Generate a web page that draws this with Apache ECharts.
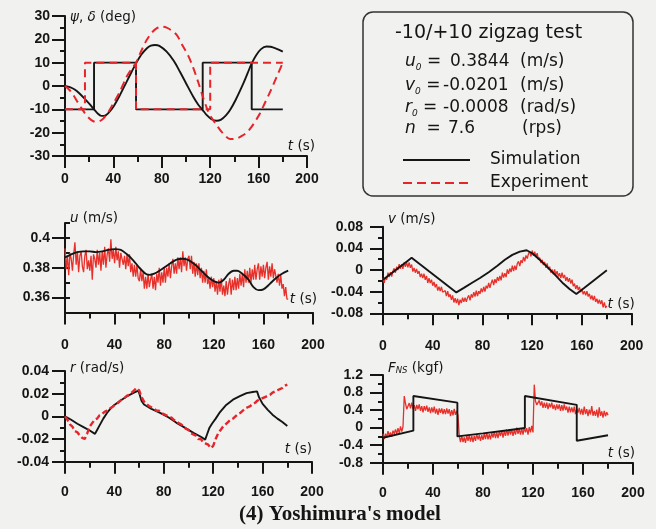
<!DOCTYPE html>
<html>
<head>
<meta charset="utf-8">
<script src="https://cdn.jsdelivr.net/npm/echarts@6/dist/echarts.min.js"></script>
<style>
html, body { margin: 0; padding: 0; background: #f1f1f0; }
#chart { width: 656px; height: 529px; }
</style>
</head>
<body>
<div id="chart"></div>
<script>
// ---- heading / rudder angle (deg) ----
const psiSimT = [0,4,8,12,16,20,24,27,30,33,36,40,45,51,55,58.7,63,67.5,71,74.4,78,84,90,95,100,106,110,113.8,117,121,125.3,129,133,136.4,141,147.4,151,154.3,158,162,166.5,170,175,180];
const psiSim  = [0,-0.5,-1.5,-3.2,-5.3,-7.6,-10,-11.8,-12.8,-12.7,-11.5,-8.9,-4.3,1.9,6,9.7,13.4,16.1,17.3,17.6,17.2,14.7,10.7,6.1,1.2,-4.6,-7.9,-10.3,-12.4,-14.2,-14.9,-14.4,-12.6,-10.3,-6,1.1,5.6,9.7,13.2,15.8,16.9,16.8,15.9,14.7];
const psiExpT = [0,3.5,6.9,10,13,16.5,20,23.4,26,30.3,35,40,45,51,55,58.7,63,67.5,72,76,80,84,88,92.3,97,102,106,110,113.8,118,121,125.3,130,136.4,142,147.4,151,154.3,158,161.2,165,170,175,180];
const psiExp  = [0,-1.6,-3.9,-6.5,-9,-11.7,-13.8,-15.1,-15.3,-14.6,-11.8,-7.4,-2.8,4,7.3,10,15,19.7,23,24.8,25.4,25,23.8,21.9,17.5,12.8,7.8,1.8,-4.4,-10.5,-13.5,-16.7,-20,-22.7,-22.5,-21,-19.5,-17.4,-14.5,-11.7,-7.5,-2,4,10];
const rudderSimT = [0,24,24,58.7,58.7,113.8,113.8,154.3,154.3,180];
const rudderSim  = [-10,-10,10,10,-10,-10,10,10,-10,-10];
const rudderExpT = [0,16.5,16.5,58.7,58.7,120,120,180];
const rudderExp  = [-10,-10,10,10,-10,-10,10,10];

// ---- surge velocity u (m/s) ----
const uSimT = [0,5,10,15,20,25,30,35,40,45,50,55,60,65,68,72,78,85,90,95,100,105,110,115,120,124,128,132,136,139,143,148,152,156,160,165,170,175,180];
const uSim  = [0.387,0.389,0.3905,0.391,0.391,0.3905,0.391,0.392,0.3925,0.392,0.389,0.385,0.380,0.376,0.3752,0.376,0.379,0.383,0.3855,0.386,0.385,0.382,0.378,0.374,0.371,0.370,0.372,0.376,0.378,0.378,0.376,0.372,0.367,0.365,0.3655,0.369,0.373,0.376,0.378];

// measured records, one sample per second from t = 0 to 180 s
const uExp = [
  0.393,0.379,0.388,0.375,0.390,0.386,0.378,0.389,0.397,0.382,
  0.391,0.377,0.388,0.391,0.381,0.377,0.388,0.392,0.379,0.385,
  0.378,0.388,0.372,0.389,0.386,0.380,0.392,0.382,0.390,0.378,
  0.391,0.382,0.394,0.380,0.389,0.393,0.384,0.399,0.386,0.392,
  0.383,0.394,0.385,0.391,0.380,0.390,0.391,0.382,0.388,0.379,
  0.389,0.381,0.389,0.377,0.383,0.374,0.382,0.374,0.382,0.373,
  0.371,0.379,0.371,0.377,0.366,0.374,0.366,0.376,0.367,0.372,
  0.376,0.366,0.374,0.365,0.376,0.370,0.380,0.368,0.377,0.370,
  0.380,0.370,0.380,0.374,0.383,0.373,0.381,0.386,0.376,0.383,
  0.376,0.387,0.379,0.387,0.377,0.391,0.381,0.387,0.378,0.386,
  0.388,0.379,0.388,0.376,0.384,0.374,0.383,0.375,0.383,0.373,
  0.380,0.370,0.378,0.370,0.379,0.369,0.373,0.366,0.374,0.367,
  0.373,0.364,0.371,0.362,0.372,0.364,0.373,0.362,0.368,0.361,
  0.371,0.362,0.369,0.373,0.362,0.372,0.365,0.374,0.365,0.373,
  0.366,0.376,0.368,0.376,0.367,0.379,0.370,0.378,0.370,0.380,
  0.370,0.379,0.372,0.382,0.372,0.379,0.383,0.372,0.381,0.374,
  0.382,0.373,0.380,0.384,0.372,0.381,0.374,0.383,0.373,0.379,
  0.380,0.370,0.376,0.368,0.375,0.366,0.369,0.361,0.367,0.359,0.359
];

// ---- sway velocity v (m/s) ----
const vSimT = [0,5,10,15,20,23,30,37,44,51,59,65,72,78,85,92,98,104,110,115.5,120,126,131,138,145,150,155.5,162,170,180];
const vSim  = [-0.018,-0.0092,-0.0004,0.0084,0.0172,0.0225,0.0101,-0.0024,-0.0148,-0.0272,-0.0414,-0.033,-0.023,-0.0148,-0.004,0.008,0.019,0.028,0.034,0.0365,0.031,0.019,0.008,-0.008,-0.025,-0.035,-0.0445,-0.033,-0.0183,-0.0005];
const vExp = [
  -0.015,-0.024,-0.013,-0.018,-0.005,-0.013,-0.004,-0.012,-0.002,0.003,
  -0.005,0.006,0.000,0.011,0.002,0.011,0.002,0.014,0.006,0.014,
  0.005,0.014,0.004,0.010,-0.003,0.004,-0.005,0.002,-0.007,-0.002,
  -0.013,-0.007,-0.015,-0.007,-0.018,-0.011,-0.024,-0.015,-0.024,-0.018,
  -0.029,-0.022,-0.032,-0.026,-0.038,-0.031,-0.039,-0.031,-0.041,-0.038,
  -0.038,-0.048,-0.039,-0.050,-0.045,-0.055,-0.047,-0.060,-0.052,-0.061,
  -0.053,-0.065,-0.055,-0.061,-0.051,-0.059,-0.051,-0.059,-0.051,-0.047,
  -0.056,-0.045,-0.051,-0.041,-0.049,-0.038,-0.048,-0.039,-0.044,-0.034,
  -0.041,-0.031,-0.040,-0.029,-0.034,-0.024,-0.033,-0.024,-0.018,-0.028,
  -0.017,-0.024,-0.013,-0.020,-0.011,-0.019,-0.005,-0.014,-0.006,-0.013,
  0.001,-0.007,0.003,-0.004,0.008,-0.002,0.008,0.000,0.012,0.016,
  0.007,0.018,0.013,0.024,0.016,0.027,0.021,0.030,0.034,0.025,
  0.036,0.026,0.034,0.024,0.031,0.019,0.023,0.013,0.019,0.009,
  0.015,0.004,0.012,0.001,0.006,-0.005,0.001,-0.008,0.001,-0.009,
  -0.002,-0.012,-0.006,-0.015,-0.005,-0.015,-0.009,-0.020,-0.013,-0.022,
  -0.015,-0.025,-0.018,-0.030,-0.025,-0.035,-0.028,-0.037,-0.031,-0.041,
  -0.035,-0.045,-0.039,-0.047,-0.039,-0.049,-0.044,-0.054,-0.047,-0.056,
  -0.048,-0.059,-0.053,-0.062,-0.055,-0.063,-0.056,-0.069,-0.060,-0.070,-0.066
];

// ---- yaw rate r (rad/s) ----
const rSimT = [0,5,10,15,20,24.3,26,28,31,34,37,40,45,50,55,59.4,60.5,62,64,70,77,84,90,97,104,110,113.5,115,117,119,122,125,130,136,142,147,152,155.5,157,160,164,168,172,176,180];
const rSim  = [0,-0.003,-0.0065,-0.0095,-0.0125,-0.0155,-0.012,-0.008,-0.002,0.003,0.007,0.010,0.014,0.0175,0.0205,0.0226,0.019,0.0135,0.0105,0.0065,0.003,-0.001,-0.0055,-0.010,-0.0146,-0.018,-0.0205,-0.016,-0.010,-0.0065,-0.002,0.003,0.0095,0.0147,0.018,0.0205,0.0215,0.022,0.017,0.011,0.006,0.0015,-0.002,-0.005,-0.0085];
// measured yaw rate, one sample every 2 s
const rExp = [
  0,-0.003,-0.007,-0.009,-0.013,-0.014,-0.017,-0.019,-0.020,-0.015,
  -0.009,-0.006,-0.003,-0.002,0.001,0.002,0.004,0.005,0.007,0.008,
  0.010,0.011,0.013,0.015,0.016,0.018,0.019,0.021,0.023,0.025,
  0.023,0.017,0.013,0.011,0.009,0.008,0.007,0.005,0.005,0.003,
  0.002,0.001,0.000,-0.001,-0.003,-0.004,-0.006,-0.007,-0.009,-0.011,
  -0.012,-0.015,-0.016,-0.017,-0.020,-0.020,-0.023,-0.024,-0.025,-0.028,
  -0.026,-0.020,-0.015,-0.012,-0.009,-0.007,-0.005,-0.003,-0.002,0.000,
  0.002,0.003,0.005,0.007,0.008,0.009,0.011,0.012,0.014,0.015,
  0.016,0.017,0.018,0.019,0.021,0.022,0.023,0.024,0.025,0.027,0.028
];

// ---- propeller-induced force F_NS (kgf) ----
const fSimT = [0,24.3,24.3,59.5,59.5,80,100,113.5,113.5,155,155,180];
const fSim  = [-0.23,-0.07,0.72,0.57,-0.20,-0.13,-0.06,-0.01,0.72,0.52,-0.30,-0.175];
const fExp = [
  -0.14,-0.26,-0.14,-0.22,-0.08,-0.19,-0.11,-0.21,-0.07,-0.14,
  -0.04,-0.14,-0.01,-0.13,0.03,-0.09,0.02,0.72,0.55,0.42,
  0.42,0.56,0.44,0.57,0.42,0.51,0.38,0.52,0.42,0.53,
  0.38,0.49,0.35,0.49,0.39,0.50,0.36,0.46,0.33,0.46,
  0.35,0.48,0.32,0.43,0.29,0.44,0.34,0.44,0.31,0.42,
  0.31,0.44,0.32,0.42,0.26,0.40,0.28,0.43,0.29,0.38,0.28,
  -0.19,-0.33,-0.19,-0.33,-0.22,-0.35,-0.18,-0.30,-0.17,
  -0.32,-0.19,-0.33,-0.19,-0.30,-0.15,-0.27,-0.17,-0.30,-0.17,
  -0.28,-0.14,-0.26,-0.11,-0.27,-0.15,-0.27,-0.12,-0.23,-0.09,
  -0.24,-0.11,-0.24,-0.09,-0.19,-0.07,-0.23,-0.08,-0.19,-0.04,
  -0.18,-0.04,-0.16,-0.04,-0.19,-0.06,-0.16,0.00,-0.14,-0.03,
  -0.16,-0.03,-0.16,0.01,-0.11,-0.01,-0.16,0.01,-0.11,0.04,-0.11,
  0.98,0.60,0.52,
  0.49,0.62,0.50,0.60,0.45,0.57,
  0.45,0.57,0.42,0.55,0.46,0.57,0.43,0.52,0.40,0.53,
  0.42,0.53,0.38,0.51,0.39,0.53,0.40,0.48,0.34,0.48,
  0.35,0.46,0.35,0.48,0.31,0.43,0.34,0.45,0.30,0.43,
  0.29,0.48,0.31,0.42,0.26,0.41,0.30,0.49,0.27,0.38,
  0.27,0.41,0.23,0.46,0.27,0.37,0.23,0.38,0.26,0.35,0.28
];

// axis tick labels
const timeTicks = [0, 40, 80, 120, 160, 200];
const uTicks = [0.36, 0.38, 0.4];

// sample times of the measured records
const expT1 = []; for (let t = 0; t <= 180; t += 1) expT1.push(t);
const expT2 = []; for (let t = 0; t <= 180; t += 2) expT2.push(t);

const zip = (ts, vs) => ts.map((t, i) => [t, vs[i]]);

const INK = '#151515';
const RED = '#e6252b';
const SANS = '"DejaVu Sans", sans-serif';
const TICKFONT = '"Liberation Sans", Arial, sans-serif';

const grids = [
  { left: 65,  top: 16,    width: 242,   height: 140 },
  { left: 65,  top: 223,   width: 248,   height: 89.5 },
  { left: 383, top: 226.7, width: 248.7, height: 86.6 },
  { left: 65,  top: 371,   width: 247,   height: 90.7 },
  { left: 383, top: 375,   width: 250,   height: 87.7 }
];

const nameRich = {
  i: { fontFamily: SANS, fontSize: 13.5, fontStyle: 'italic', color: INK },
  n: { fontFamily: SANS, fontSize: 13.5, color: INK },
  s: { fontFamily: SANS, fontSize: 8.5, fontStyle: 'italic', color: INK, verticalAlign: 'bottom', lineHeight: 10 }
};

function timeAxis(gi, labelMargin, nameGap, namePadBottom) {
  return {
    type: 'value', gridIndex: gi, min: 0, max: 200, interval: 40,
    axisLine: { onZero: false, lineStyle: { color: INK, width: 2 } },
    axisTick: { length: 12, lineStyle: { color: INK, width: 2 } },
    minorTick: { show: true, splitNumber: 2, length: 6, lineStyle: { color: INK, width: 2 } },
    splitLine: { show: false },
    axisLabel: { margin: labelMargin, fontFamily: TICKFONT, fontWeight: 'bold', fontSize: 14, color: INK,
      formatter: v => timeTicks.includes(v) ? String(v) : '' },
    name: '{i|t}{n| (s)}', nameLocation: 'end', nameGap: nameGap,
    nameTextStyle: { align: 'right', verticalAlign: 'bottom', padding: [0, 0, namePadBottom, 0], rich: nameRich }
  };
}

function valueAxis(gi, min, max, interval, name, nameGap, labelMargin) {
  return {
    type: 'value', gridIndex: gi, min: min, max: max, interval: interval,
    axisLine: { show: true, onZero: false, lineStyle: { color: INK, width: 2 } },
    axisTick: { show: true, length: 13, lineStyle: { color: INK, width: 2 } },
    minorTick: { show: true, splitNumber: 2, length: 5, lineStyle: { color: INK, width: 2 } },
    splitLine: { show: false },
    axisLabel: { margin: labelMargin, fontFamily: TICKFONT, fontWeight: 'bold', fontSize: 14, color: INK },
    name: name, nameLocation: 'end', nameGap: nameGap,
    nameTextStyle: { align: 'left', verticalAlign: 'middle', padding: [0, 0, 0, 5], rich: nameRich }
  };
}

const uAxis = {
  type: 'value', gridIndex: 1, min: 0.35, max: 0.41,
  axisLine: { show: true, onZero: false, lineStyle: { color: INK, width: 2 } },
  axisTick: { show: true, length: 13, customValues: uTicks, lineStyle: { color: INK, width: 2 } },
  splitLine: { show: false },
  axisLabel: { margin: 15, customValues: uTicks, fontFamily: TICKFONT, fontWeight: 'bold', fontSize: 14, color: INK },
  name: '{i|u}{n| (m/s)}', nameLocation: 'end', nameGap: 5,
  nameTextStyle: { align: 'left', verticalAlign: 'middle', padding: [0, 0, 0, 5], rich: nameRich }
};
// short ticks every 0.01 on the u axis
const uMinorAxis = {
  type: 'value', gridIndex: 1, min: 0.35, max: 0.41, interval: 0.01,
  axisLine: { show: false },
  axisTick: { show: true, length: 5, lineStyle: { color: INK, width: 2 } },
  axisLabel: { show: false }, splitLine: { show: false }
};

function line(xi, yi, data, opts) {
  return Object.assign({
    type: 'line', xAxisIndex: xi, yAxisIndex: yi, data: data,
    symbol: 'none', animation: false
  }, opts);
}

const blackStyle = { lineStyle: { color: INK, width: 1.9 } };
const redDash = { lineStyle: { color: RED, width: 2, type: [8, 5] } };
const redNoise = { lineStyle: { color: '#e8302a', width: 1.3 } };

const chart = echarts.init(document.getElementById('chart'), null, { renderer: 'canvas' });

chart.setOption({
  animation: false,
  backgroundColor: '#f1f1f0',
  grid: grids,
  xAxis: [
    timeAxis(0, 16, 8, 3),
    timeAxis(1, 26, 4, 6),
    timeAxis(2, 26, 3, 2),
    timeAxis(3, 23, 0, 5),
    timeAxis(4, 23, 2, 2)
  ],
  yAxis: [
    valueAxis(0, -30, 30, 10, '{i|ψ}{n|, }{i|δ}{n| (deg)}', -1, 15),
    uAxis,
    uMinorAxis,
    valueAxis(2, -0.08, 0.08, 0.04, '{i|v}{n| (m/s)}', 7, 20),
    valueAxis(3, -0.04, 0.04, 0.02, '{i|r}{n| (rad/s)}', 3, 16),
    valueAxis(4, -0.8, 1.2, 0.4, '{i|F}{s|NS}{n| (kgf)}', 7, 20)
  ],
  series: [
    line(0, 0, zip(rudderSimT, rudderSim), blackStyle),
    line(0, 0, zip(psiSimT, psiSim), Object.assign({ smooth: 0.3 }, blackStyle)),
    line(0, 0, zip(rudderExpT, rudderExp), redDash),
    line(0, 0, zip(psiExpT, psiExp), Object.assign({ smooth: 0.3 }, redDash)),

    line(1, 1, zip(expT1, uExp), redNoise),
    line(1, 1, zip(uSimT, uSim), Object.assign({ smooth: 0.3 }, blackStyle)),

    line(2, 3, zip(expT1, vExp), redNoise),
    line(2, 3, zip(vSimT, vSim), blackStyle),

    line(3, 4, zip(rSimT, rSim), blackStyle),
    line(3, 4, zip(expT2, rExp), { lineStyle: { color: RED, width: 2.4, type: [6, 3] } }),

    line(4, 5, zip(expT1, fExp), redNoise),
    line(4, 5, zip(fSimT, fSim), blackStyle)
  ],
  graphic: [
    { type: 'rect', shape: { x: 363, y: 12, width: 270, height: 184, r: 10 },
      style: { fill: 'none', stroke: '#333', lineWidth: 1.5 } },
    { type: 'text', x: 395, y: 33,
      style: { text: '-10/+10 zigzag test', fontFamily: SANS, fontSize: 19, fill: INK, verticalAlign: 'middle' } },
    { type: 'text', x: 405, y: 62, style: { text: '{i|u}{s|0}{n| =}', verticalAlign: 'middle', rich: {
      i: { fontFamily: SANS, fontSize: 17, fontStyle: 'italic', fill: INK, lineHeight: 20 },
      s: { fontFamily: SANS, fontSize: 9, fontStyle: 'italic', fill: INK, verticalAlign: 'bottom', lineHeight: 9 },
      n: { fontFamily: SANS, fontSize: 17, fill: INK, lineHeight: 20 } } } },
    { type: 'text', x: 405, y: 86, style: { text: '{i|v}{s|0}{n| =}', verticalAlign: 'middle', rich: {
      i: { fontFamily: SANS, fontSize: 17, fontStyle: 'italic', fill: INK, lineHeight: 20 },
      s: { fontFamily: SANS, fontSize: 9, fontStyle: 'italic', fill: INK, verticalAlign: 'bottom', lineHeight: 9 },
      n: { fontFamily: SANS, fontSize: 17, fill: INK, lineHeight: 20 } } } },
    { type: 'text', x: 405, y: 108, style: { text: '{i|r}{s|0}{n| =}', verticalAlign: 'middle', rich: {
      i: { fontFamily: SANS, fontSize: 17, fontStyle: 'italic', fill: INK, lineHeight: 20 },
      s: { fontFamily: SANS, fontSize: 9, fontStyle: 'italic', fill: INK, verticalAlign: 'bottom', lineHeight: 9 },
      n: { fontFamily: SANS, fontSize: 17, fill: INK, lineHeight: 20 } } } },
    { type: 'text', x: 405, y: 129, style: { text: '{i|n}{n|  =}', verticalAlign: 'middle', rich: {
      i: { fontFamily: SANS, fontSize: 17, fontStyle: 'italic', fill: INK },
      n: { fontFamily: SANS, fontSize: 17, fill: INK } } } },
    { type: 'text', x: 450, y: 62, style: { text: '0.3844', fontFamily: SANS, fontSize: 17, fill: INK, verticalAlign: 'middle' } },
    { type: 'text', x: 443, y: 86, style: { text: '-0.0201', fontFamily: SANS, fontSize: 17, fill: INK, verticalAlign: 'middle' } },
    { type: 'text', x: 443, y: 108, style: { text: '-0.0008', fontFamily: SANS, fontSize: 17, fill: INK, verticalAlign: 'middle' } },
    { type: 'text', x: 448, y: 129, style: { text: '7.6', fontFamily: SANS, fontSize: 17, fill: INK, verticalAlign: 'middle' } },
    { type: 'text', x: 520, y: 62, style: { text: '(m/s)', fontFamily: SANS, fontSize: 17, fill: INK, verticalAlign: 'middle' } },
    { type: 'text', x: 520, y: 86, style: { text: '(m/s)', fontFamily: SANS, fontSize: 17, fill: INK, verticalAlign: 'middle' } },
    { type: 'text', x: 520, y: 108, style: { text: '(rad/s)', fontFamily: SANS, fontSize: 17, fill: INK, verticalAlign: 'middle' } },
    { type: 'text', x: 522, y: 129, style: { text: '(rps)', fontFamily: SANS, fontSize: 17, fill: INK, verticalAlign: 'middle' } },
    { type: 'line', shape: { x1: 403, y1: 160, x2: 470, y2: 160 }, style: { stroke: INK, lineWidth: 1.8 } },
    { type: 'line', shape: { x1: 403, y1: 183, x2: 470, y2: 183 }, style: { stroke: RED, lineWidth: 2, lineDash: [9, 5] } },
    { type: 'text', x: 490, y: 160, style: { text: 'Simulation', fontFamily: SANS, fontSize: 17, fill: INK, verticalAlign: 'middle' } },
    { type: 'text', x: 490, y: 183, style: { text: 'Experiment', fontFamily: SANS, fontSize: 17, fill: INK, verticalAlign: 'middle' } },
    { type: 'text', x: 340, y: 515,
      style: { text: "(4) Yoshimura's model", fontFamily: '"Liberation Serif", "Times New Roman", serif', fontWeight: 'bold',
        fontSize: 21, fill: INK, align: 'center', verticalAlign: 'middle' } }
  ]
});
</script>
</body>
</html>
